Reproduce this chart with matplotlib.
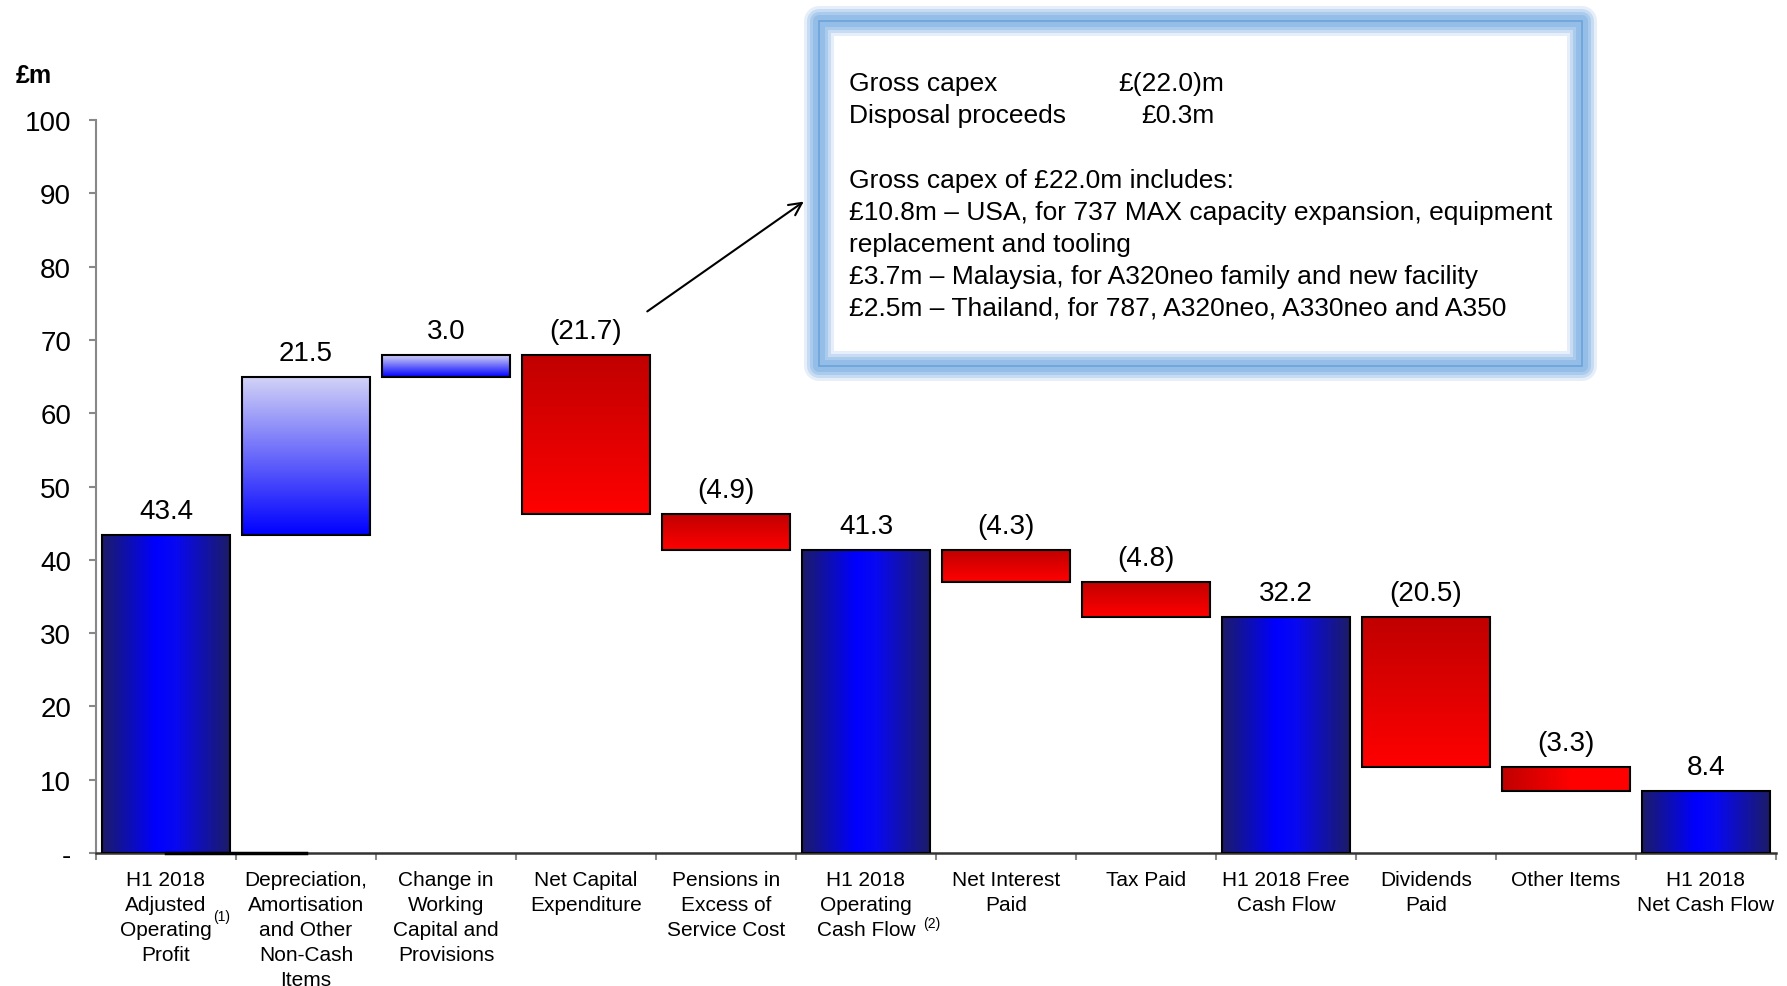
#!/usr/bin/env python3
"""H1 2018 cash flow bridge (waterfall) with a capex callout."""

import matplotlib.pyplot as plt
import numpy as np
from matplotlib.colors import LinearSegmentedColormap
from matplotlib.patches import Rectangle

CATEGORIES = [
    "H1 2018\nAdjusted\nOperating\nProfit",
    "Depreciation,\nAmortisation\nand Other\nNon-Cash\nItems",
    "Change in\nWorking\nCapital and\nProvisions",
    "Net Capital\nExpenditure",
    "Pensions in\nExcess of\nService Cost",
    "H1 2018\nOperating\nCash Flow",
    "Net Interest\nPaid",
    "Tax Paid",
    "H1 2018 Free\nCash Flow",
    "Dividends\nPaid",
    "Other Items",
    "H1 2018\nNet Cash Flow",
]
FOOTNOTE_MARKS = {0: "(1)", 5: "(2)"}
VALUES = [43.4, 21.5, 3.0, -21.7, -4.9, 41.3, -4.3, -4.8, 32.2, -20.5, -3.3, 8.4]
IS_TOTAL = [True, False, False, False, False, True, False, False, True, False, False, True]

Y_TICKS = [0, 10, 20, 30, 40, 50, 60, 70, 80, 90, 100]
Y_TICK_LABELS = ["-", "10", "20", "30", "40", "50", "60", "70", "80", "90", "100"]

CALLOUT_LINES = [
    ("Gross capex", "£(22.0)m"),
    ("Disposal proceeds", "£0.3m"),
]
CALLOUT_BODY = [
    "Gross capex of £22.0m includes:",
    "£10.8m – USA, for 737 MAX capacity expansion, equipment",
    "replacement and tooling",
    "£3.7m – Malaysia, for A320neo family and new facility",
    "£2.5m – Thailand, for 787, A320neo, A330neo and A350",
]

W, H = 1787, 987
BAR_WIDTH = 0.91

TOTAL_CMAP = LinearSegmentedColormap.from_list(
    "total", [(0, "#1c1c68"), (0.42, "#0000ff"), (0.58, "#0808f2"), (1, "#1c1c68")]
)
UP_CMAP = LinearSegmentedColormap.from_list("up", ["#0000ff", "#d2d2f6"])
DOWN_CMAP = LinearSegmentedColormap.from_list("down", ["#ff0000", "#c00000"])
DOWN_H_CMAP = LinearSegmentedColormap.from_list(
    "downh", [(0, "#c00000"), (0.55, "#ff0000"), (1, "#ff0000")]
)


def fx(px):
    return px / W


def fy(py):
    return 1 - py / H


def main() -> None:
    plt.rcParams["font.family"] = ["Liberation Sans", "DejaVu Sans"]

    fig = plt.figure(figsize=(W / 100, H / 100), dpi=100)
    ax = fig.add_axes([fx(96), fy(854), fx(1776) - fx(96), fy(121) - fy(854)])

    # waterfall bottoms / tops
    bottoms, tops = [], []
    running = 0.0
    for v, tot in zip(VALUES, IS_TOTAL):
        if tot:
            running = v
            bottoms.append(0.0)
            tops.append(v)
        else:
            start = running
            running = start + v
            bottoms.append(min(start, running))
            tops.append(max(start, running))

    hgrad = np.linspace(0, 1, 256).reshape(1, -1)
    vgrad = np.linspace(0, 1, 256).reshape(-1, 1)
    for i, (b, t, v, tot) in enumerate(zip(bottoms, tops, VALUES, IS_TOTAL)):
        x0, x1 = i - BAR_WIDTH / 2, i + BAR_WIDTH / 2
        if tot:
            img, cmap = hgrad, TOTAL_CMAP
        elif v > 0:
            img, cmap = vgrad, UP_CMAP
        elif CATEGORIES[i] == "Other Items":
            img, cmap = hgrad, DOWN_H_CMAP
        else:
            img, cmap = vgrad, DOWN_CMAP
        ax.imshow(img, cmap=cmap, extent=[x0, x1, b, t], origin="lower",
                  aspect="auto", interpolation="bilinear", zorder=2)
        ax.add_patch(Rectangle((x0, b), BAR_WIDTH, t - b, fill=False,
                               edgecolor="black", linewidth=1.5, zorder=3))
        label = f"{v:.1f}" if v >= 0 else f"({abs(v):.1f})"
        ax.annotate(label, (i, t), xytext=(0, 8), textcoords="offset points",
                    ha="center", va="bottom", fontsize=20)

    ax.plot([0, 1], [0, 0], color="black", linewidth=2.5, zorder=4, clip_on=False)

    ax.set_xlim(-0.5, len(VALUES) - 0.5)
    ax.set_ylim(0, 100)
    ax.set_yticks(Y_TICKS, labels=Y_TICK_LABELS)
    ax.set_xticks(range(len(CATEGORIES)), labels=CATEGORIES)
    ax.set_xticks(np.arange(-0.5, len(VALUES)), minor=True)
    ax.tick_params(axis="x", which="major", length=0, pad=12, labelsize=15)
    ax.tick_params(axis="x", which="minor", length=5, width=1.5, color="#888888")
    ax.tick_params(axis="y", length=5, width=1.5, color="#888888", pad=13, labelsize=20)
    for lab in ax.get_xticklabels():
        lab.set_linespacing(1.4)

    # footnote markers on two category labels (superscript-style, small)
    mark_pos = {0: (222, 917), 5: (932, 924)}
    for i, mark in FOOTNOTE_MARKS.items():
        px, py = mark_pos[i]
        fig.text(fx(px), fy(py), mark, fontsize=10, ha="center", va="center")

    for side in ("top", "right"):
        ax.spines[side].set_visible(False)
    ax.spines["left"].set_color("#888888")
    ax.spines["left"].set_linewidth(1.5)
    ax.spines["bottom"].set_color("#333333")
    ax.spines["bottom"].set_linewidth(1.8)

    fig.text(fx(16), fy(76), "£m", fontsize=18, fontweight="bold", va="center")

    # callout box with soft blue glow
    bx0, by0, bx1, by1 = 819, 22, 1582, 367
    rect_xy = (fx(bx0), fy(by1))
    rw, rh = fx(bx1) - fx(bx0), fy(by0) - fy(by1)
    for lw_px, alpha in [(30, 0.2), (24, 0.3), (18, 0.4), (12, 0.55)]:
        fig.add_artist(Rectangle(rect_xy, rw, rh, transform=fig.transFigure,
                                 fill=False, edgecolor="#82b3e3", alpha=alpha,
                                 linewidth=lw_px * 0.72, joinstyle="round"))
    fig.add_artist(Rectangle(rect_xy, rw, rh, transform=fig.transFigure,
                             fill=False, edgecolor="#6aa3d9", linewidth=1.2))

    fs = 19
    text_y = [84, 116]
    for (left, right), ty in zip(CALLOUT_LINES, text_y):
        fig.text(fx(849), fy(ty), left, fontsize=fs, va="center")
    fig.text(fx(1118), fy(text_y[0]), CALLOUT_LINES[0][1], fontsize=fs, va="center")
    fig.text(fx(1141), fy(text_y[1]), CALLOUT_LINES[1][1], fontsize=fs, va="center")
    for k, line in enumerate(CALLOUT_BODY):
        fig.text(fx(849), fy(181 + 32 * k), line, fontsize=fs, va="center")

    ax.annotate("", xy=(fx(806), fy(201)), xytext=(fx(645), fy(314)),
                xycoords="figure fraction", textcoords="figure fraction",
                arrowprops=dict(arrowstyle="->,head_length=0.9,head_width=0.45",
                                color="black", linewidth=1.5))

    fig.savefig("out.png", dpi=100)


if __name__ == "__main__":
    main()
